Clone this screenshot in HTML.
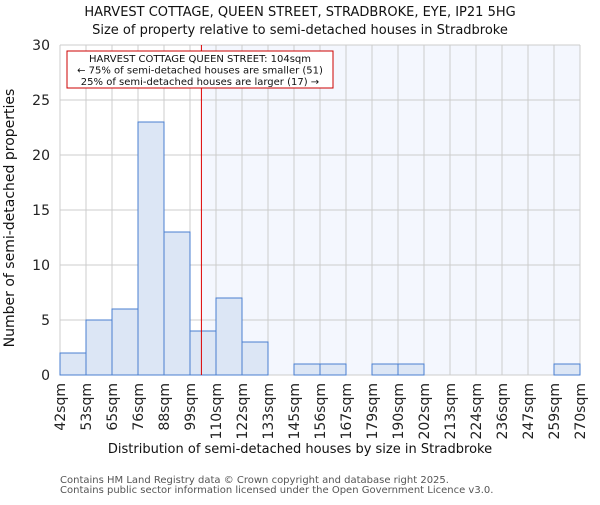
<!DOCTYPE html>
<html><head><meta charset="utf-8"><style>body{margin:0;background:#fff}svg{font-family:"DejaVu Sans","Liberation Sans",sans-serif}</style></head>
<body>
<svg id="c" width="600" height="500"></svg>
<script>
const edges=[42,53,65,76,88,99,110,122,133,145,156,167,179,190,202,213,224,236,247,259,270];
const tickLabels=["42sqm","53sqm","65sqm","76sqm","88sqm","99sqm","110sqm","122sqm","133sqm","145sqm","156sqm","167sqm","179sqm","190sqm","202sqm","213sqm","224sqm","236sqm","247sqm","259sqm","270sqm"];
const counts=[2,5,6,23,13,4,7,3,0,1,1,0,1,1,0,0,0,0,0,1];
const yTicks=[0,5,10,15,20,25,30];
const marker=104;
const NS="http://www.w3.org/2000/svg",svg=document.getElementById('c');
const L=60,R=580,T=45,B=375;
const xi=i=>L+i*(R-L)/(edges.length-1);
const xv=v=>L+(v-edges[0])/(edges[edges.length-1]-edges[0])*(R-L);
const y=v=>B-v/30*(B-T);
function mk(t,a,p){const e=document.createElementNS(NS,t);for(const k in a)e.setAttribute(k,a[k]);(p||svg).appendChild(e);return e;}
let e;
const mx=xv(marker);
e=mk('rect',{x:mx,y:T,width:R-mx,height:B-T,fill:'#f4f7fe'});


yTicks.forEach(v=>{e=mk('line',{x1:L,x2:R,y1:y(v),y2:y(v),stroke:'#cccccc'});


e=mk('text',{x:L-10,y:y(v)+5,'text-anchor':'end','font-size':14,fill:'#222'});e.textContent=v;

});
edges.forEach((v,i)=>{e=mk('line',{x1:xi(i),x2:xi(i),y1:T,y2:B,stroke:'#cccccc'});


const tx=xi(i);
e=mk('text',{x:tx+5,y:B+8,'text-anchor':'end','font-size':14,fill:'#222',transform:`rotate(-90 ${tx+5} ${B+8})`});e.textContent=tickLabels[i];

});
counts.forEach((c,i)=>{if(!c)return;e=mk('rect',{x:xi(i),y:y(c),width:xi(i+1)-xi(i),height:B-y(c),fill:'#dce6f5',stroke:'#4a7fd0','stroke-width':1});

});
e=mk('line',{x1:mx,x2:mx,y1:T,y2:B,stroke:'#dd0000','stroke-width':1});


e=mk('rect',{x:67,y:51,width:266,height:37,fill:'#fff',stroke:'#cc0000'});


["HARVEST COTTAGE QUEEN STREET: 104sqm","← 75% of semi-detached houses are smaller (51)","25% of semi-detached houses are larger (17) →"].forEach((t,i)=>{e=mk('text',{x:200,y:62+i*11.5,'text-anchor':'middle','font-size':10,fill:'#111'});e.textContent=t;

});
e=mk('text',{x:300,y:16,'text-anchor':'middle','font-size':13,fill:'#111'});e.textContent="HARVEST COTTAGE, QUEEN STREET, STRADBROKE, EYE, IP21 5HG";


e=mk('text',{x:300,y:34,'text-anchor':'middle','font-size':13,fill:'#111'});e.textContent="Size of property relative to semi-detached houses in Stradbroke";


e=mk('text',{x:300,y:458,'text-anchor':'middle','font-size':13,fill:'#111'});
e.setAttribute('y','453');
e.textContent="Distribution of semi-detached houses by size in Stradbroke";


e=mk('text',{x:14,y:218,'text-anchor':'middle','font-size':14,fill:'#111',transform:'rotate(-90 14 218)'});e.textContent="Number of semi-detached properties";


["Contains HM Land Registry data © Crown copyright and database right 2025.","Contains public sector information licensed under the Open Government Licence v3.0."].forEach((t,i)=>{e=mk('text',{x:60,y:483+i*10,'font-size':10,fill:'#555'});e.textContent=t;

});
</script>
</body></html>
